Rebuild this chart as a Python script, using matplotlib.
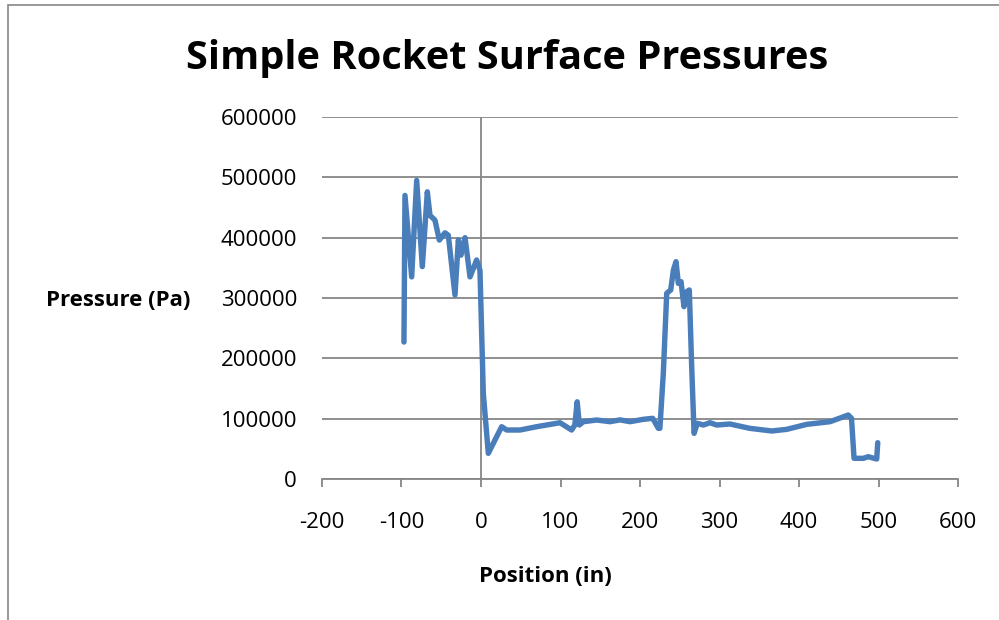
import matplotlib
matplotlib.use('Agg')
import matplotlib.pyplot as plt
from matplotlib.patches import Rectangle

# position (in) and surface pressure (Pa)
position = [-96.9, -95.6, -87.2, -80.9, -73.8, -67.5, -64.2, -57.9, -52.4, -45.3,
            -41.1, -32.7, -28.5, -25.2, -20.1, -13.8, -5.5, -1.3, 2.9, 9.2,
            26.0, 32.3, 49.0, 70.0, 99.4, 114.0, 118.0, 121.0, 123.7, 128.7,
            145.5, 162.3, 174.8, 187.4, 204.0, 216.0, 223.0, 225.0, 229.3, 233.6,
            238.6, 242.0, 245.3, 248.2, 251.6, 255.3, 258.7, 262.0, 265.0, 268.0,
            272.0, 279.7, 288.0, 296.5, 313.0, 338.0, 365.7, 384.5, 409.7, 439.0,
            462.0, 466.0, 469.2, 481.0, 487.0, 497.7, 499.0]
pressure = [227000, 470000, 335000, 495000, 352000, 476000, 437000, 429000, 396000, 408000,
            404000, 305000, 396000, 371000, 400000, 335000, 363000, 346000, 142000, 42600,
            86700, 81200, 81200, 86700, 93300, 81200, 89500, 128000, 89500, 95000,
            97800, 95000, 98000, 95000, 98900, 100600, 84000, 84000, 175000, 307800,
            313300, 346400, 360200, 324300, 327100, 285600, 310500, 313300, 186100, 75700,
            92300, 89500, 93300, 89500, 91200, 84000, 79600, 82300, 90600, 95000,
            106100, 100600, 34300, 34300, 37000, 33100, 60200]

x_ticks = [-200, -100, 0, 100, 200, 300, 400, 500, 600]
y_ticks = [0, 100000, 200000, 300000, 400000, 500000, 600000]

plt.rcParams['font.family'] = ['Open Sans', 'DejaVu Sans']

fig = plt.figure(figsize=(9.99, 6.2), dpi=100)
fig.patches.append(Rectangle((0.008, -0.1), 1.2, 1.092, transform=fig.transFigure,
                             fill=False, edgecolor='#868686', linewidth=1.2))

ax = fig.add_axes([0.3223, 0.2274, 0.6367, 0.5839])
grid_col = '#868686'

ax.plot(position, pressure, color='#4a7ebb', linewidth=3.9, solid_joinstyle='round',
        solid_capstyle='round', zorder=3)

ax.set_xlim(-200, 600)
ax.set_ylim(0, 600000)
ax.set_xticks(x_ticks)
ax.set_yticks(y_ticks)
ax.set_xticklabels([str(t) for t in x_ticks], fontsize=16)
ax.set_yticklabels([str(t) for t in y_ticks], fontsize=16)

for s in ['top', 'right', 'left']:
    ax.spines[s].set_visible(False)
ax.spines['bottom'].set_color(grid_col)
ax.spines['bottom'].set_linewidth(1.3)

ax.grid(axis='y', color=grid_col, linewidth=1.3)
ax.axvline(0, color=grid_col, linewidth=1.3, zorder=2)
ax.tick_params(axis='x', length=6, width=1.3, color=grid_col, pad=18)
ax.tick_params(axis='y', length=0, pad=18)
ax.set_axisbelow(True)

ax.set_xlabel('Position (in)', fontsize=16, fontweight='bold')
ax.xaxis.set_label_coords(0.351, -0.24)
ax.set_ylabel('Pressure (Pa)', fontsize=16, fontweight='bold', rotation=0,
              ha='center', va='center')
ax.yaxis.set_label_coords(-0.321, 0.494)

fig.text(0.508, 0.905, 'Simple Rocket Surface Pressures', fontsize=28.6,
         fontweight='bold', ha='center', va='center')

fig.savefig('out.png', dpi=100)
